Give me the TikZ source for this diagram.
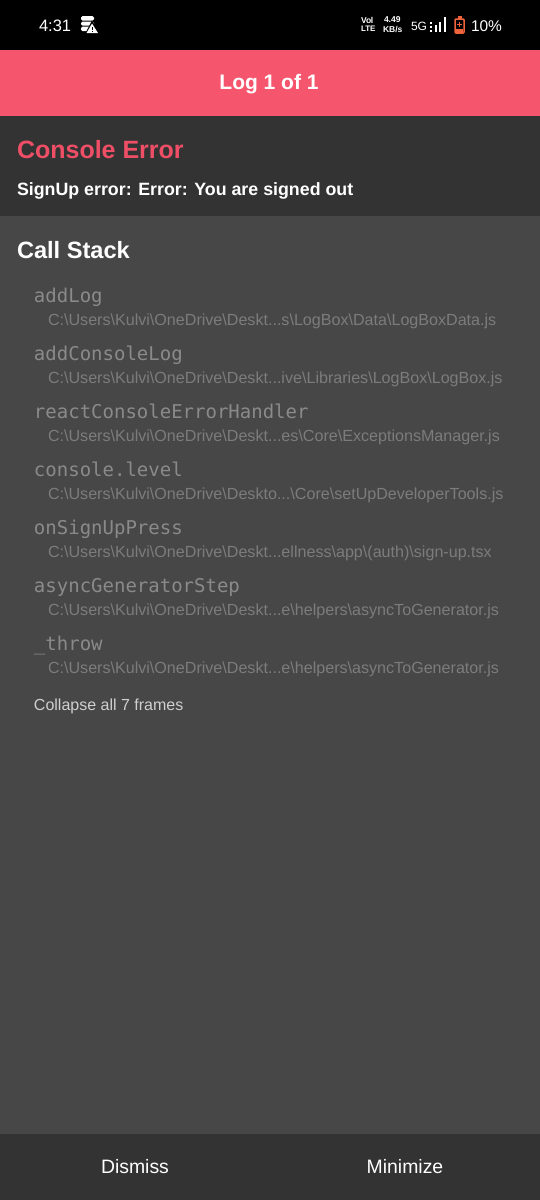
\documentclass[tikz,border=0pt]{standalone}
\usepackage{fontspec}
\setmainfont{Liberation Sans}
\setmonofont{DejaVu Sans Mono}
\definecolor{barblack}{HTML}{000000}
\definecolor{pinkbar}{HTML}{F6566D}
\definecolor{darkband}{HTML}{333333}
\definecolor{bodybg}{HTML}{474747}
\definecolor{errred}{HTML}{EE4F66}
\definecolor{fnc}{HTML}{8A8A8A}
\definecolor{pathc}{HTML}{7C7C7C}
\definecolor{collc}{HTML}{CFCFCF}
\definecolor{batt}{HTML}{F0623C}
\newcommand{\fs}[1]{\fontsize{#1pt}{#1pt}\selectfont}
\tikzset{
  x=1pt,y=-1pt,
  txt/.style={inner sep=0pt,outer sep=0pt,anchor=base west},
  fnname/.style={txt,text=fnc,font=\ttfamily\fs{19}},
  pathname/.style={txt,text=pathc,font=\fs{16.1}},
  statustxt/.style={txt,text=white},
}
\begin{document}
\begin{tikzpicture}
\useasboundingbox (0,0) rectangle (540,1200);
\fill[barblack] (0,0) rectangle (540,50);
\fill[pinkbar] (0,50) rectangle (540,116);
\fill[darkband] (0,116) rectangle (540,216);
\fill[bodybg] (0,216) rectangle (540,1134);
\fill[darkband] (0,1134) rectangle (540,1200);
% status bar
\node[statustxt,font=\fs{16.5}] (clock) at (39,31) {4:31};
% database icon with warning triangle
\fill[white,rounded corners=1.5pt] (81,16) rectangle (94,20.5);
\fill[white,rounded corners=1.5pt] (81,21.5) rectangle (94,25.5);
\fill[white,rounded corners=1.5pt] (81,26.5) rectangle (91,31);
\fill[black] (92,20.5) -- (100,34) -- (85,34) -- cycle;
\fill[white] (92,23.5) -- (98,33) -- (86.5,33) -- cycle;
\fill[black] (91.6,26.5) rectangle (92.6,30);
\fill[black] (91.6,30.8) rectangle (92.6,32);
\node[statustxt,font=\bfseries\fs{8.5}] (volte) at (361,23) {Vo\kern-0.3pt l};
\node[statustxt,font=\bfseries\fs{8}] (lte) at (361,31) {LTE};
\node[statustxt,font=\bfseries\fs{8.5}] (speed) at (384,22) {4.49};
\node[statustxt,font=\bfseries\fs{8.5}] (kbs) at (383,32) {KB/s};
\node[statustxt,font=\fs{12}] (fiveg) at (411,30.5) {5G};
\fill[white] (430,21.5) rectangle (432,23.5);
\fill[white] (430,25.5) rectangle (432,27.5);
\fill[white] (430,29.5) rectangle (432,32);
\fill[white] (435,25) rectangle (437,32);
\fill[white] (439,21.5) rectangle (441,32);
\fill[white] (443.5,17) rectangle (446,32);
\draw[batt,line width=1.5pt,rounded corners=1pt] (455,19) rectangle (464,33);
\fill[batt] (457.5,16) rectangle (461.5,19);
\fill[batt] (456,29) rectangle (463,32.5);
\fill[batt] (458.8,22) rectangle (460.2,27);
\fill[batt] (457,23.8) rectangle (462,25.2);
\node[statustxt,font=\fs{15.5}] (pct) at (471,31) {10\%};
% header
\node[txt,text=white,font=\bfseries\fs{21},anchor=base] (title) at (269,89.5) {Log 1 of 1};
\node[txt,text=errred,font=\bfseries\fs{25}] (err) at (17,158) {Console Error};
\node[txt,text=white,font=\bfseries\fs{17.8}] (msg) at (17,195) {SignUp error: Error: You are signed out};
\node[txt,text=white,font=\bfseries\fs{23.6}] (stack) at (17,258) {Call Stack};
% frames
\node[fnname] (f1) at (34,302) {addLog};
\node[pathname] (p1) at (48,325) {C:\textbackslash Users\textbackslash Kulvi\textbackslash OneDrive\textbackslash Deskt...s\textbackslash LogBox\textbackslash Data\textbackslash LogBoxData.js};
\node[fnname] (f2) at (34,360) {addConsoleLog};
\node[pathname] (p2) at (48,383) {C:\textbackslash Users\textbackslash Kulvi\textbackslash OneDrive\textbackslash Deskt...ive\textbackslash Libraries\textbackslash LogBox\textbackslash LogBox.js};
\node[fnname] (f3) at (34,418) {reactConsoleErrorHandler};
\node[pathname] (p3) at (48,441) {C:\textbackslash Users\textbackslash Kulvi\textbackslash OneDrive\textbackslash Deskt...es\textbackslash Core\textbackslash ExceptionsManager.js};
\node[fnname] (f4) at (34,476) {console.level};
\node[pathname] (p4) at (48,499) {C:\textbackslash Users\textbackslash Kulvi\textbackslash OneDrive\textbackslash Deskto...\textbackslash Core\textbackslash setUpDeveloperTools.js};
\node[fnname] (f5) at (34,534) {onSignUpPress};
\node[pathname] (p5) at (48,557) {C:\textbackslash Users\textbackslash Kulvi\textbackslash OneDrive\textbackslash Deskt...ellness\textbackslash app\textbackslash (auth)\textbackslash sign-up.tsx};
\node[fnname] (f6) at (34,592) {asyncGeneratorStep};
\node[pathname] (p6) at (48,615) {C:\textbackslash Users\textbackslash Kulvi\textbackslash OneDrive\textbackslash Deskt...e\textbackslash helpers\textbackslash asyncToGenerator.js};
\node[fnname] (f7) at (34,650) {\_throw};
\node[pathname] (p7) at (48,673) {C:\textbackslash Users\textbackslash Kulvi\textbackslash OneDrive\textbackslash Deskt...e\textbackslash helpers\textbackslash asyncToGenerator.js};
\node[txt,text=collc,font=\fs{16}] (coll) at (34,710) {Collapse all 7 frames};
% footer
\node[txt,text=white,font=\fs{19.4},anchor=base] (dismiss) at (135,1173) {Dismiss};
\node[txt,text=white,font=\fs{19.4},anchor=base] (minimize) at (405,1173) {Minimize};
\end{tikzpicture}
\end{document}
